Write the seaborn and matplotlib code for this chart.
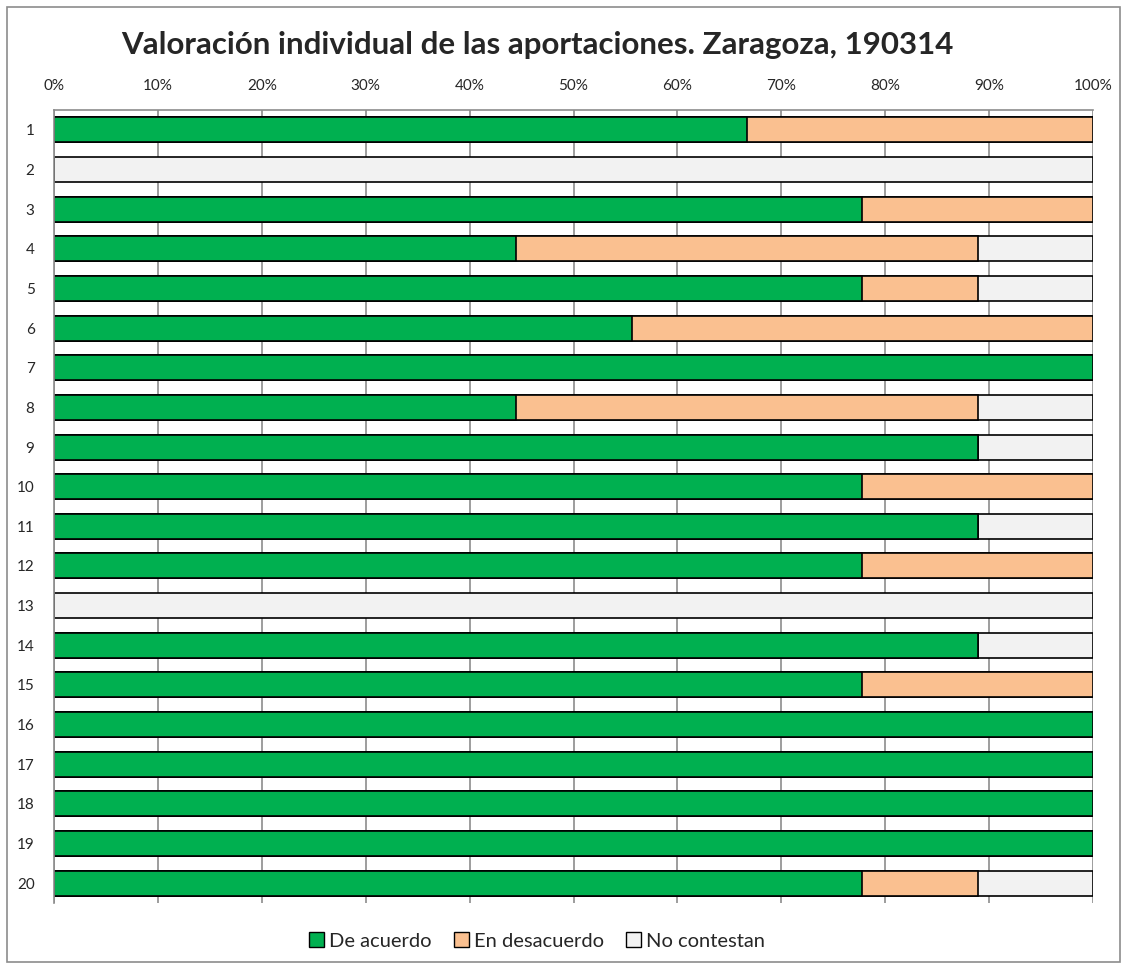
import numpy as np
import pandas as pd
import matplotlib
matplotlib.use("Agg")
import matplotlib.pyplot as plt
import seaborn as sns
from matplotlib.patches import Patch, Rectangle
from matplotlib.ticker import FuncFormatter

# Data (percent of answers per question)
preguntas = [str(i) for i in range(1, 21)]
de_acuerdo = [66.7, 0, 77.8, 44.4, 77.8, 55.6, 100, 44.4, 88.9, 77.8,
              88.9, 77.8, 0, 88.9, 77.8, 100, 100, 100, 100, 77.8]
en_desacuerdo = [33.3, 0, 22.2, 44.4, 11.1, 44.4, 0, 44.4, 0, 22.2,
                 0, 22.2, 0, 0, 22.2, 0, 0, 0, 0, 11.1]
no_contestan = [0, 100, 0, 11.1, 11.1, 0, 0, 11.1, 11.1, 0,
                11.1, 0, 100, 11.1, 0, 0, 0, 0, 0, 11.1]

series = ["De acuerdo", "En desacuerdo", "No contestan"]
colores = ["#00B050", "#FAC090", "#F2F2F2"]

df = pd.DataFrame({"pregunta": preguntas, "De acuerdo": de_acuerdo,
                   "En desacuerdo": en_desacuerdo, "No contestan": no_contestan})
# cumulative values for stacking, scaled so each row sums to 100
total = df[series].sum(axis=1)
for s in series:
    df[s] = df[s] / total * 100
df["c1"] = df["De acuerdo"]
df["c2"] = df["c1"] + df["En desacuerdo"]
df["c3"] = df["c2"] + df["No contestan"]

sns.set_style("white")
plt.rcParams["font.family"] = ["Lato", "DejaVu Sans"]

fig = plt.figure(figsize=(11.27, 9.69), dpi=100)
ax = fig.add_axes([54 / 1127, 1 - 903 / 969, (1093 - 54) / 1127, (903 - 110) / 969])

# draw back to front so the stacks show
for col, c in zip(["c3", "c2", "c1"], colores[::-1]):
    sns.barplot(data=df, x=col, y="pregunta", order=preguntas, orient="h",
                color=c, edgecolor="black", linewidth=1.2, width=0.63,
                saturation=1, ax=ax)

ax.set_xlim(0, 100)
ax.set_ylim(19.5, -0.5)
ax.set_xticks(np.arange(0, 101, 10))
ax.xaxis.set_major_formatter(FuncFormatter(lambda v, p: f"{v:.0f}%"))
ax.xaxis.tick_top()
ax.set_xlabel("")
ax.set_ylabel("")
ax.grid(axis="x", color="#8C8C8C", linewidth=1.2)
ax.set_axisbelow(True)
ax.tick_params(axis="x", length=0, pad=12, labelsize=11)
ax.tick_params(axis="y", length=0, pad=14, labelsize=11)
for side in ["right", "bottom"]:
    ax.spines[side].set_visible(False)
for side in ["left", "top"]:
    ax.spines[side].set_color("#8C8C8C")
    ax.spines[side].set_linewidth(1.2)

# title and legend sit slightly left of the figure centre, as in the original
fig.text(537 / 1127, 1 - 45 / 969, "Valoración individual de las aportaciones. Zaragoza, 190314",
         ha="center", va="center", fontsize=22.5, fontweight="bold")

handles = [Patch(facecolor=c, edgecolor="black", linewidth=1) for c in colores]
fig.legend(handles, series, loc="center", bbox_to_anchor=(537 / 1127, 1 - 941 / 969),
           ncol=3, frameon=False, fontsize=14.5, handlelength=0.75, handleheight=0.75,
           handletextpad=0.25, columnspacing=1.1)

fig.patches.append(Rectangle((7 / 1127, 7 / 969), 1113 / 1127, 955 / 969,
                             transform=fig.transFigure, fill=False,
                             edgecolor="#8C8C8C", linewidth=1.2))

fig.savefig("out.png", dpi=100)
